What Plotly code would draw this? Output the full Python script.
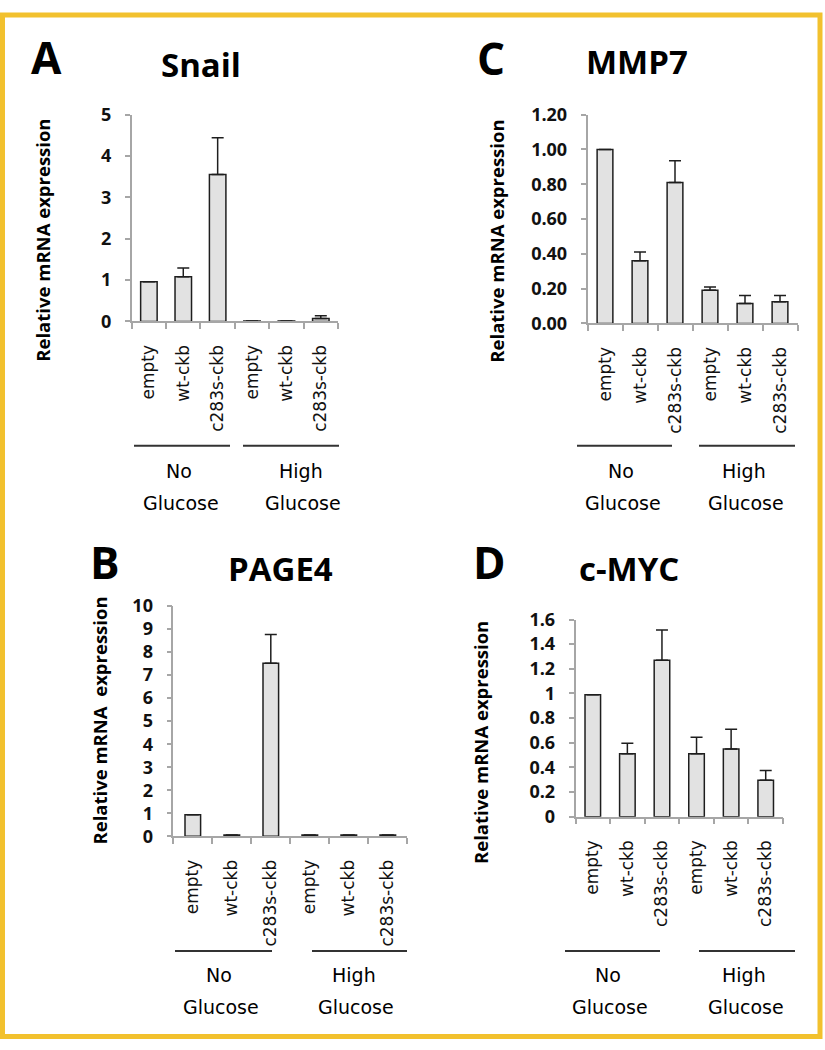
import plotly.graph_objects as go

W, H = 825, 1050

# ---------------- data ----------------
conditions = ["empty", "wt-ckb", "c283s-ckb", "empty", "wt-ckb", "c283s-ckb"]
groups = ["No", "High"]

snail_vals = [0.96, 1.08, 3.55, 0.01, 0.01, 0.07]
snail_err = [0.0, 0.21, 0.89, 0.0, 0.0, 0.07]

page4_vals = [0.93, 0.05, 7.52, 0.05, 0.05, 0.05]
page4_err = [0.0, 0.0, 1.25, 0.0, 0.0, 0.0]

mmp7_vals = [1.00, 0.36, 0.81, 0.19, 0.115, 0.125]
mmp7_err = [0.0, 0.05, 0.125, 0.02, 0.045, 0.035]

myc_vals = [0.99, 0.51, 1.27, 0.51, 0.55, 0.295]
myc_err = [0.0, 0.085, 0.245, 0.135, 0.16, 0.08]

snail_ticks = [0, 1, 2, 3, 4, 5]
page4_ticks = list(range(0, 11))
mmp7_ticks = [0.0, 0.2, 0.4, 0.6, 0.8, 1.0, 1.2]
mmp7_ticktext = ["0.00", "0.20", "0.40", "0.60", "0.80", "1.00", "1.20"]
myc_ticks = [0, 0.2, 0.4, 0.6, 0.8, 1.0, 1.2, 1.4, 1.6]
myc_ticktext = ["0", "0.2", "0.4", "0.6", "0.8", "1", "1.2", "1.4", "1.6"]

# ---------------- layout helpers ----------------
def px(x):
    return x / W

def py(y):
    return 1 - y / H

FONT = "Open Sans"
LABEL_FONT = "DejaVu Sans"
AXIS_GRAY = "#a6a6a6"

fig = go.Figure()

panels = [
    dict(vals=snail_vals, err=snail_err, ticks=snail_ticks, ticktext=[str(t) for t in snail_ticks],
         yr=[0, 5], xd=(131.7, 338), yd=(315.7, 104), bw=0.48,
         letter="A", letter_xy=(46, 45), title="Snail", title_xy=(201, 53),
         ytitle="Relative mRNA expression", ytitle_xy=(43, 233),
         gline_y=443, glines=[(134, 230), (243, 339)], glab_x=(179, 301), glab_y=(469, 501)),
    dict(vals=page4_vals, err=page4_err, ticks=page4_ticks, ticktext=[str(t) for t in page4_ticks],
         yr=[0, 10], xd=(173.3, 407.3), yd=(842.5, 607), bw=0.4,
         letter="B", letter_xy=(105, 562), title="PAGE4", title_xy=(280, 568),
         ytitle="Relative mRNA  expression", ytitle_xy=(99, 724),
         gline_y=960, glines=[(175, 272), (312, 407)], glab_x=(219, 354), glab_y=(985, 1017)),
    dict(vals=mmp7_vals, err=mmp7_err, ticks=mmp7_ticks, ticktext=mmp7_ticktext,
         yr=[0, 1.2], xd=(587.5, 797.5), yd=(317.7, 104), bw=0.45,
         letter="C", letter_xy=(491, 46), title="MMP7", title_xy=(637, 50),
         ytitle="Relative mRNA expression", ytitle_xy=(497, 234),
         gline_y=443, glines=[(577, 672), (699, 795)], glab_x=(621, 744), glab_y=(469, 501)),
    dict(vals=myc_vals, err=myc_err, ticks=myc_ticks, ticktext=myc_ticktext,
         yr=[0, 1.6], xd=(575.5, 783), yd=(822.5, 620.7), bw=0.45,
         letter="D", letter_xy=(489, 562), title="c-MYC", title_xy=(629, 568),
         ytitle="Relative mRNA expression", ytitle_xy=(481, 747),
         gline_y=960, glines=[(565, 660), (699, 795)], glab_x=(608, 744), glab_y=(985, 1017)),
]

annotations = []
shapes = []

def ann(text, x, y, size, bold=False, angle=0, family=FONT):
    f = dict(family=family, size=size, color="#000")
    if bold:
        f["weight"] = "bold"
    return dict(text=text, x=px(x), y=py(y), xref="paper", yref="paper", showarrow=False,
                xanchor="center", yanchor="middle", textangle=angle, font=f)

for i, p in enumerate(panels):
    n = i + 1
    xa = "x" if n == 1 else f"x{n}"
    ya = "y" if n == 1 else f"y{n}"
    xkey = "xaxis" if n == 1 else f"xaxis{n}"
    ykey = "yaxis" if n == 1 else f"yaxis{n}"
    xs = list(range(len(conditions)))
    fig.add_trace(go.Bar(
        x=xs, y=p["vals"], xaxis=xa, yaxis=ya, width=p["bw"],
        marker=dict(color="#e2e2e2", line=dict(color="#1e1e1e", width=1.5)),
        error_y=dict(type="data", symmetric=False, array=p["err"], arrayminus=[0] * 6,
                     color="#1e1e1e", thickness=1.5, width=6, visible=True),
        showlegend=False, hoverinfo="skip",
    ))
    fig.layout[xkey] = dict(
        domain=[px(p["xd"][0]), px(p["xd"][1])], anchor=ya,
        range=[-0.5, 5.5], tickmode="array", tickvals=xs, ticktext=conditions,
        tickangle=-90, ticks="outside", ticklen=5, tickcolor="rgba(0,0,0,0)",
        ticklabelstandoff=10,
        tickfont=dict(family=LABEL_FONT, size=17, color="#111"),
        showline=True, linecolor=AXIS_GRAY, linewidth=1.5, showgrid=False, zeroline=False,
        minor=dict(tickmode="array", tickvals=[k - 0.5 for k in range(7)], ticks="outside",
                   ticklen=6, tickcolor=AXIS_GRAY, tickwidth=1.5),
        fixedrange=True,
    )
    fig.layout[ykey] = dict(
        domain=[py(p["yd"][0]), py(p["yd"][1])], anchor=xa,
        range=p["yr"], tickmode="array", tickvals=p["ticks"], ticktext=p["ticktext"],
        ticks="outside", ticklen=5, tickcolor=AXIS_GRAY, tickwidth=1.5,
        ticklabelstandoff=10,
        tickfont=dict(family=FONT, size=18, color="#111", weight="bold"),
        showline=True, linecolor=AXIS_GRAY, linewidth=1.5, showgrid=False, zeroline=False,
        fixedrange=True,
    )
    annotations.append(ann(p["letter"], *p["letter_xy"], 44, bold=True))
    annotations.append(ann(p["title"], *p["title_xy"], 33, bold=True))
    annotations.append(ann(p["ytitle"], *p["ytitle_xy"], 18.5, bold=True, angle=-90))
    for (gx0, gx1) in p["glines"]:
        shapes.append(dict(type="line", xref="paper", yref="paper",
                           x0=px(gx0), x1=px(gx1), y0=py(p["gline_y"]), y1=py(p["gline_y"]),
                           line=dict(color="#333", width=2)))
    for gname, gx in zip(groups, p["glab_x"]):
        annotations.append(ann(gname, gx, p["glab_y"][0], 19, family=LABEL_FONT))
        annotations.append(ann("Glucose", gx + 2, p["glab_y"][1], 19, family=LABEL_FONT))

# frame
shapes.append(dict(type="rect", xref="paper", yref="paper",
                   x0=px(2.5), x1=px(820), y0=py(1047.5), y1=py(2),
                   line=dict(color="#F2C12E", width=5)))

fig.update_layout(
    width=W, height=H, margin=dict(l=0, r=0, t=0, b=0),
    paper_bgcolor="white", plot_bgcolor="white",
    annotations=annotations, shapes=shapes,
)

post = (
    "document.documentElement.style.margin='0';"
    "document.body.style.margin='0';"
    "document.documentElement.style.overflow='hidden';"
    "document.body.style.overflow='hidden';"
    "var gd=document.getElementById('{plot_id}');"
    "gd.style.position='fixed';gd.style.top='0px';gd.style.left='0px';"
)

fig.write_html("out.html", config={"displayModeBar": False}, post_script=post)
